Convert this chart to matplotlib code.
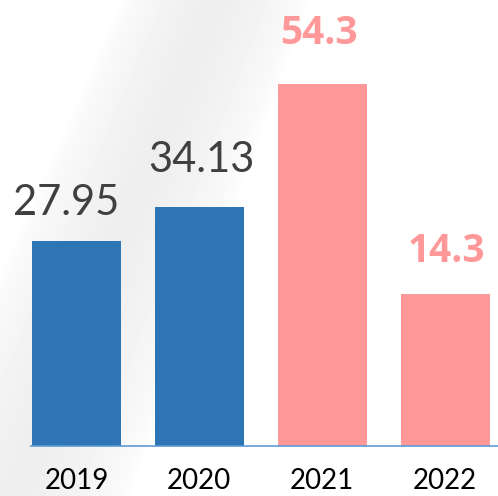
import matplotlib.pyplot as plt
import numpy as np

years = ['2019', '2020', '2021', '2022']
values = [27.95, 34.13, 54.3, 14.3]
# bar heights as drawn in the picture (not to scale with the labels)
bar_heights = [30.75, 35.85, 54.3, 22.8]
colors = ['#2E75B6', '#2E75B6', '#FF9999', '#FF9999']
label_colors = ['#404040', '#404040', '#FF9999', '#FF9999']
label_bold = [False, False, True, True]
# small label nudges in pixels (dx, gap above bar)
label_dx = [-10, 2, -3, 1]
label_gap = [26, 35, 40, 32]

fig = plt.figure(figsize=(4.98, 4.96), dpi=100)
fig.patch.set_facecolor('white')

# faint diagonal gray streak in the background
bg = fig.add_axes([0, 0, 1, 1])
bg.set_axis_off()
W, H = 498, 496
xx, yy = np.meshgrid(np.arange(W), np.arange(H))
cx = 215 - (215 - 15) * yy / H
half = 95 + 20 * yy / H
d = np.abs(xx - cx) / half
shade = np.clip(1 - d, 0, 1) ** 0.6
img = 1 - 0.07 * shade
bg.imshow(img, cmap='gray', vmin=0, vmax=1, extent=[0, W, H, 0], aspect='auto')
bg.set_xlim(0, W)
bg.set_ylim(H, 0)

ax = fig.add_axes([31 / 498, 50 / 496, 1 - 31 / 498, 446 / 496])
ax.patch.set_alpha(0)
x = np.arange(len(years))
ax.bar(x, bar_heights, width=0.725, color=colors, zorder=2)
ax.set_xlim(-0.37, 3.43)
ax.set_ylim(0, 66.9)

for i in range(len(years)):
    ax.annotate(f'{values[i]:g}', (x[i], bar_heights[i]),
                xytext=(label_dx[i] * 0.72, label_gap[i] * 0.72), textcoords='offset points',
                ha='center', va='baseline', fontsize=28 if label_bold[i] else 30,
                fontweight='bold' if label_bold[i] else 'normal',
                color=label_colors[i],
                family='Open Sans' if label_bold[i] else 'Lato')

ax.set_xticks(x)
ax.set_xticklabels(years, fontsize=20, family='Lato', color='black')
ax.tick_params(axis='x', length=0, pad=16)
ax.set_yticks([])
for s in ['top', 'right', 'left']:
    ax.spines[s].set_visible(False)
ax.spines['bottom'].set_color('#5B9BD5')
ax.spines['bottom'].set_linewidth(1.2)

fig.savefig('out.png', dpi=100)
